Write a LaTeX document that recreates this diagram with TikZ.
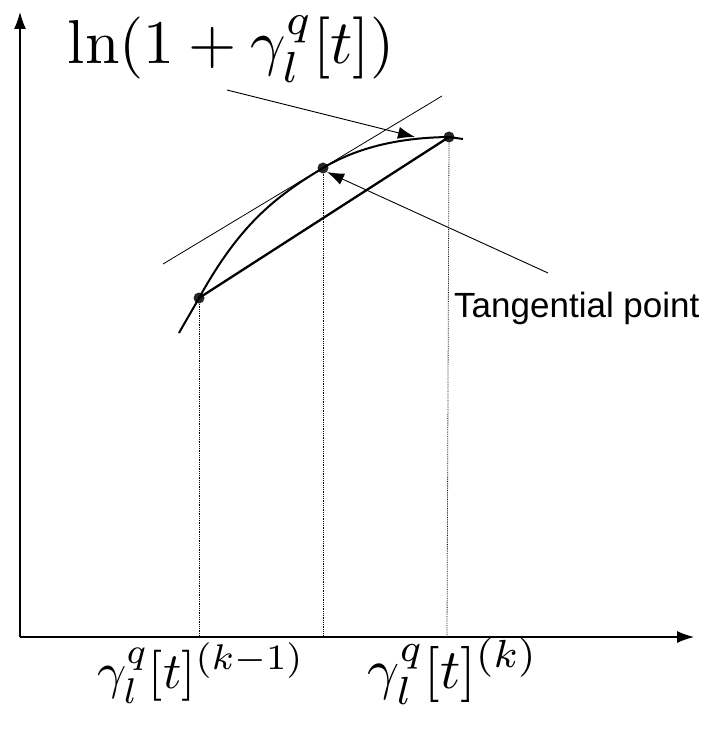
\documentclass[tikz,border=0pt]{standalone}
\usepackage{fontspec}
\newfontfamily\labelfont{Liberation Sans}
\usetikzlibrary{arrows.meta,positioning}
\newcommand{\bigmath}[2][5.6]{\scalebox{#1}{$#2$}}

\begin{document}
\begin{tikzpicture}[x=1pt, y=-1pt,
    axis/.style={line width=1.2pt, -{Latex[length=17pt,width=12pt]}},
    dot/.style={circle, fill=black!85, inner sep=0pt, minimum size=11pt},
    guide/.style={densely dotted, line width=0.8pt},
    pointer/.style={line width=0.9pt, -{Latex[length=17pt,width=12pt]}},
    mathlbl/.style={inner sep=0pt, anchor=base},
    txt/.style={font=\labelfont\fontsize{35}{38}\selectfont, inner sep=0pt}
]
    \useasboundingbox (0,0) rectangle (704,730);

    % axes
    \coordinate (o) at (20,637);
    \coordinate (ytip) at (20,12);
    \coordinate (xtip) at (694,637);
    \draw[axis] (o) -- (ytip);
    \draw[axis] (o) -- (xtip);

    % points on the curve
    \node[dot] (p1) at (199,298) {};
    \node[dot] (p2) at (323,168) {};
    \node[dot] (p3) at (449,137) {};

    % curve, chord and tangent
    \coordinate (c0) at (179,333);
    \coordinate (c4) at (463,139);
    \draw[line width=2pt] (c0) .. controls (185,322) and (193,309) .. (p1.center)
        .. controls (239,226) and (273,198) .. (p2.center)
        .. controls (363,144) and (409,137.5) .. (p3.center) -- (c4);
    \draw[line width=2.3pt] (p1.center) -- (p3.center);
    \coordinate (t1) at (163,264);
    \coordinate (t2) at (442,96);
    \draw[line width=0.8pt] (t1) -- (t2);

    % projections on the x axis
    \coordinate (f1) at (199,637);
    \coordinate (f2) at (323,637);
    \coordinate (f3) at (447,637);
    \draw[guide] (p1) -- (f1);
    \draw[guide] (p2) -- (f2);
    \draw[guide] (p3) -- (f3);

    % labels
    \node[mathlbl] (ylbl) at (231,64) {\bigmath[6.2]{\ln(1+\gamma_l^q[t])}};
    \node[mathlbl] (x1lbl) at (201,688) {\bigmath[5.1]{\gamma_l^q[t]^{(k-1)}}};
    \node[mathlbl] (x2lbl) at (453,688) {\bigmath{\gamma_l^q[t]^{(k)}}};
    \node[txt, anchor=west] (tp) at (454,308) {Tangential point};

    % pointers
    \coordinate (a1) at (227,90);
    \coordinate (a2) at (548,273);
    \draw[pointer] (a1) -- (415,137);
    \draw[pointer] (a2) -- (p2.south east);
\end{tikzpicture}
\end{document}
